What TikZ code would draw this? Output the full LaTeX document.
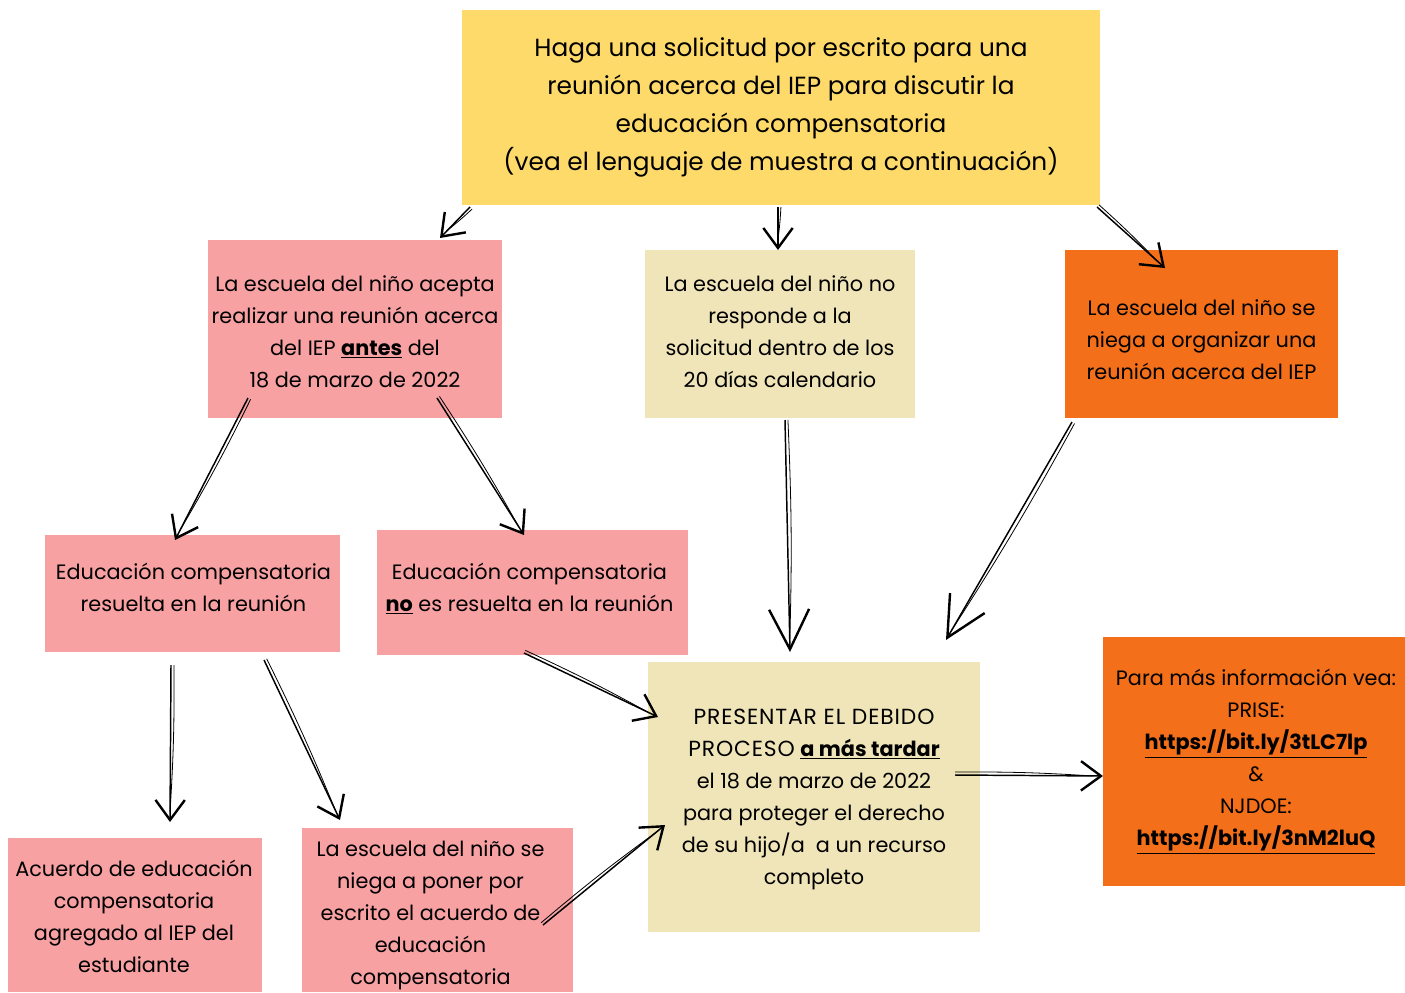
\documentclass[tikz,border=0pt]{standalone}
\usepackage{fontspec}
\setmainfont{Poppins}
\newfontfamily\capsfont[LetterSpace=4]{Poppins}
\usetikzlibrary{arrows.meta,calc,fit}
\definecolor{yel}{RGB}{254,218,106}
\definecolor{pnk}{RGB}{247,161,163}
\definecolor{bge}{RGB}{240,229,184}
\definecolor{org}{RGB}{243,111,26}
\newcommand{\ul}[1]{\underline{\textbf{#1}}}
\tikzset{
  box/.style={inner sep=0pt, outer sep=0pt},
  txt/.style={inner sep=0pt, align=center, text=black, font=\fontsize{15.6}{24}\selectfont},
  sk/.style={line width=1.1pt, black},
  skthin/.style={line width=0.6pt, black},
  tipS/.style={-{Straight Barb[length=15pt,width=22pt,line width=1.8pt]}},
  tipL/.style={-{Straight Barb[length=30pt,width=30pt,line width=1.8pt]}},
}
\newcommand{\skarrow}[3]{%
  \draw[sk,#3] #1 -- #2;
  \draw[skthin] ($#1!2.2pt!90:#2$) to[bend left=2] ($#2!8pt!#1$);
}
\begin{document}
\begin{tikzpicture}[x=0.75pt,y=-0.75pt]
\useasboundingbox (0,0) rectangle (1405,992);
\fill[white] (0,0) rectangle (1405,992);

\node[box, fill=yel, fit={(462,10)(1100,205)}] (top) {};
\node[txt, font=\fontsize{18.6}{28.5}\selectfont] (topT) at ($(top.center)+(0,0)$)
 {Haga una solicitud por escrito para una\\reunión acerca del IEP para discutir la\\educación compensatoria\\(vea el lenguaje de muestra a continuación)};

\node[box, fill=pnk, fit={(208,240)(502,418)}] (A) {};
\node[txt] (AT) at ($(A.center)+(0,3)$)
 {La escuela del niño acepta\\realizar una reunión acerca\\del IEP \ul{antes} del\\18 de marzo de 2022};

\node[box, fill=bge, fit={(645,250)(915,418)}] (B) {};
\node[txt] (BT) at ($(B.center)+(0,-2)$)
 {La escuela del niño no\\responde a la\\solicitud dentro de los\\20 días calendario};

\node[box, fill=org, fit={(1065,250)(1338,418)}] (C) {};
\node[txt] (CT) at ($(C.center)+(0,6)$)
 {La escuela del niño se\\niega a organizar una\\reunión acerca del IEP};

\node[box, fill=pnk, fit={(45,535)(340,652)}] (D) {};
\node[txt] (DT) at ($(D.center)+(1,-6)$)
 {Educación compensatoria\\resuelta en la reunión};

\node[box, fill=pnk, fit={(377,530)(688,655)}] (E) {};
\node[txt] (ET) at ($(E.center)+(-3,-4)$)
 {Educación compensatoria\\\ul{no} es resuelta en la reunión};

\node[box, fill=bge, fit={(648,662)(980,932)}] (F) {};
\node[txt] (FT) at ($(F.center)+(0,2)$)
 {{\capsfont\fontsize{16.4}{24}\selectfont PRESENTAR EL DEBIDO}\\{\capsfont\fontsize{16.4}{24}\selectfont PROCESO} \ul{a más tardar}\\el 18 de marzo de 2022\\para proteger el derecho\\de su hijo/a\ \ a un recurso\\completo};

\node[box, fill=org, fit={(1103,637)(1405,886)}] (G) {};
\node[txt] (GT) at ($(G.center)+(2,0)$)
 {Para más información vea:\\PRISE:\\\ul{https://bit.ly/3tLC7lp}\\\&\\NJDOE:\\\ul{https://bit.ly/3nM2luQ}};

\node[box, fill=pnk, fit={(8,838)(262,992)}] (H) {};
\node[txt] (HT) at ($(H.center)+(-1,1)$)
 {Acuerdo de educación\\compensatoria\\agregado al IEP del\\estudiante};

\node[box, fill=pnk, fit={(302,828)(573,992)}] (I) {};
\node[txt] (IT) at ($(I.center)+(-7,5)$)
 {La escuela del niño se\\niega a poner por\\escrito el acuerdo de\\educación\\compensatoria};

% arrows
\skarrow{($(top.south west)+(8,2)$)}{($(A.north west)+(232,-2)$)}{tipS}
\skarrow{($(top.south west)+(316,2)$)}{($(B.north west)+(133,0)$)}{tipS}
\skarrow{($(top.south east)+(-3,2)$)}{($(C.north west)+(100,18)$)}{tipS}
\skarrow{($(A.south west)+(40,-20)$)}{($(D.north west)+(130,5)$)}{tipS}
\skarrow{($(A.south west)+(229,-20)$)}{($(E.north west)+(147,5)$)}{tipS}
\skarrow{($(B.south west)+(140,2)$)}{($(F.north west)+(142,-10)$)}{tipL}
\skarrow{($(C.south west)+(7,4)$)}{($(F.north east)+(-34,-22)$)}{tipL}
\skarrow{($(E.south west)+(147,-2)$)}{($(F.north west)+(10,55)$)}{tipS}
\skarrow{($(D.south west)+(126,13)$)}{($(H.north west)+(162,-16)$)}{tipS}
\skarrow{($(D.south west)+(219,8)$)}{($(I.north west)+(38,-8)$)}{tipS}
\skarrow{($(I.north east)+(-30,97)$)}{($(F.north west)+(17,163)$)}{tipS}
\skarrow{($(F.north east)+(-25,113)$)}{($(G.north west)+(0,139)$)}{tipS}
\end{tikzpicture}
\end{document}
